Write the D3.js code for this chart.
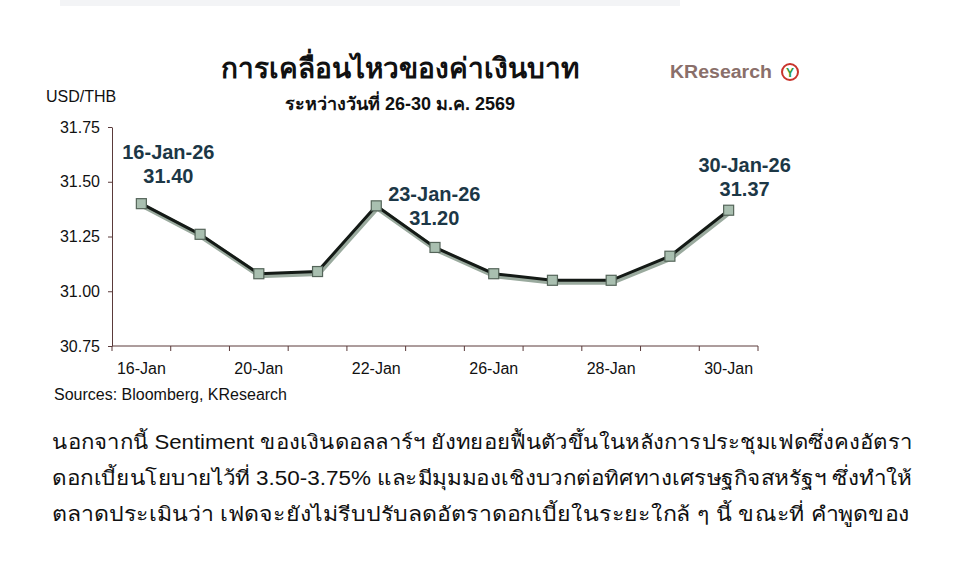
<!DOCTYPE html>
<html>
<head>
<meta charset="utf-8">
<script src="https://cdn.jsdelivr.net/npm/d3@7"></script>
<style>
  body { margin: 0; background: #fff; }
  text { font-family: "Liberation Sans", "DejaVu Sans", sans-serif; }
</style>
</head>
<body>
<svg id="chart" width="960" height="588"></svg>
<script>
const dates = ["16-Jan", "19-Jan", "20-Jan", "21-Jan", "22-Jan", "23-Jan", "26-Jan", "27-Jan", "28-Jan", "29-Jan", "30-Jan"];
const rates = [31.40, 31.26, 31.08, 31.09, 31.39, 31.20, 31.08, 31.05, 31.05, 31.16, 31.37];
const yTicks = [30.75, 31.00, 31.25, 31.50, 31.75];
const shownDates = ["16-Jan", "20-Jan", "22-Jan", "26-Jan", "28-Jan", "30-Jan"];
const callouts = [
  { idx: 0, lines: ["16-Jan-26", "31.40"], dx: 27, dy: -45 },
  { idx: 4, lines: ["23-Jan-26", "31.20"], dx: 58, dy: -5 },
  { idx: 10, lines: ["30-Jan-26", "31.37"], dx: 16, dy: -38 }
];
const paragraph = [
  "นอกจากนี้ Sentiment ของเงินดอลลาร์ฯ ยังทยอยฟื้นตัวขึ้นในหลังการประชุมเฟดซึ่งคงอัตรา",
  "ดอกเบี้ยนโยบายไว้ที่ 3.50-3.75% และมีมุมมองเชิงบวกต่อทิศทางเศรษฐกิจสหรัฐฯ ซึ่งทำให้",
  "ตลาดประเมินว่า เฟดจะยังไม่รีบปรับลดอัตราดอกเบี้ยในระยะใกล้ ๆ นี้ ขณะที่ คำพูดของ"
];

const svg = d3.select("#chart");
const plotLeft = 112, plotRight = 758, plotTop = 127, plotBottom = 346;

const x = d3.scaleBand().domain(dates).range([plotLeft, plotRight]);
const y = d3.scaleLinear().domain([30.75, 31.75]).range([plotBottom, plotTop]);

// faint cropped text at top
svg.append("rect").attr("x", 60).attr("y", 0).attr("width", 620).attr("height", 6).attr("fill", "#f3f4f6");

svg.append("text").attr("x", 400).attr("y", 78).attr("text-anchor", "middle")
  .attr("font-size", 28).attr("font-weight", "bold").attr("fill", "#111")
  .text("การเคลื่อนไหวของค่าเงินบาท");
svg.append("text").attr("x", 400).attr("y", 110).attr("text-anchor", "middle")
  .attr("font-size", 18).attr("font-weight", "bold").attr("fill", "#111")
  .text("ระหว่างวันที่ 26-30 ม.ค. 2569");

const logo = svg.append("g").attr("transform", "translate(670,78)");
logo.append("text").attr("font-size", 18).attr("font-weight", "bold").attr("fill", "#8a6f6a")
  .attr("textLength", 102).attr("lengthAdjust", "spacingAndGlyphs").text("KResearch");
logo.append("circle").attr("cx", 120).attr("cy", -6).attr("r", 8).attr("fill", "#fff")
  .attr("stroke", "#c8342c").attr("stroke-width", 2);
logo.append("text").attr("x", 120).attr("y", -1).attr("text-anchor", "middle")
  .attr("font-size", 12).attr("font-weight", "bold").attr("fill", "#2e9a3c").text("Y");

svg.append("text").attr("x", 46).attr("y", 102).attr("font-size", 16).attr("fill", "#111").text("USD/THB");

// y axis
const yAxis = d3.axisLeft(y).tickValues(yTicks).tickFormat(d3.format(".2f")).tickSize(4).tickSizeOuter(0);
const gy = svg.append("g").attr("transform", `translate(${plotLeft},0)`).call(yAxis);
gy.selectAll("text").attr("font-size", 16).attr("fill", "#111").attr("x", -12);
gy.selectAll("line, path").attr("stroke", "#5a3a3a");

// x axis ticks at band boundaries
const gx = svg.append("g");
gx.append("line").attr("x1", plotLeft).attr("x2", plotRight).attr("y1", plotBottom).attr("y2", plotBottom).attr("stroke", "#5a3a3a");
gx.selectAll("line.tk").data(dates.concat([null])).join("line").attr("class", "tk")
  .attr("x1", (d, i) => plotLeft + i * x.bandwidth()).attr("x2", (d, i) => plotLeft + i * x.bandwidth())
  .attr("y1", plotBottom).attr("y2", plotBottom + 5).attr("stroke", "#5a3a3a");
gx.selectAll("text").data(shownDates).join("text")
  .attr("x", d => x(d) + x.bandwidth() / 2).attr("y", plotBottom + 28)
  .attr("text-anchor", "middle").attr("font-size", 16).attr("fill", "#111").text(d => d);

svg.append("text").attr("x", 54).attr("y", 400).attr("font-size", 16).attr("fill", "#111")
  .text("Sources: Bloomberg, KResearch");

// line with soft shadow
const line = d3.line().x((d, i) => x(dates[i]) + x.bandwidth() / 2).y(d => y(d));
svg.append("path").datum(rates).attr("d", line).attr("fill", "none")
  .attr("stroke", "#9aaa9e").attr("stroke-width", 5).attr("transform", "translate(1,2)");
svg.append("path").datum(rates).attr("d", line).attr("fill", "none")
  .attr("stroke", "#141a16").attr("stroke-width", 3);

svg.selectAll("rect.pt").data(rates).join("rect").attr("class", "pt")
  .attr("x", (d, i) => x(dates[i]) + x.bandwidth() / 2 - 5)
  .attr("y", d => y(d) - 5).attr("width", 10).attr("height", 10)
  .attr("fill", "#a9bfb0").attr("stroke", "#55655a").attr("stroke-width", 1.2);

callouts.forEach(c => {
  const cx = x(dates[c.idx]) + x.bandwidth() / 2 + c.dx;
  const cy = y(rates[c.idx]) + c.dy;
  c.lines.forEach((t, j) => {
    svg.append("text").attr("x", cx).attr("y", cy + j * 24).attr("text-anchor", "middle")
      .attr("font-size", 20).attr("font-weight", "bold").attr("fill", "#1c3746").text(t);
  });
});

svg.selectAll("text.para").data(paragraph).join("text").attr("class", "para")
  .attr("x", 52).attr("y", (d, i) => 449 + i * 36).attr("font-size", 20).attr("fill", "#111")
  .attr("textLength", (d, i) => i === 2 ? 858 : 860).attr("lengthAdjust", "spacingAndGlyphs").text(d => d);
</script>
</body>
</html>
